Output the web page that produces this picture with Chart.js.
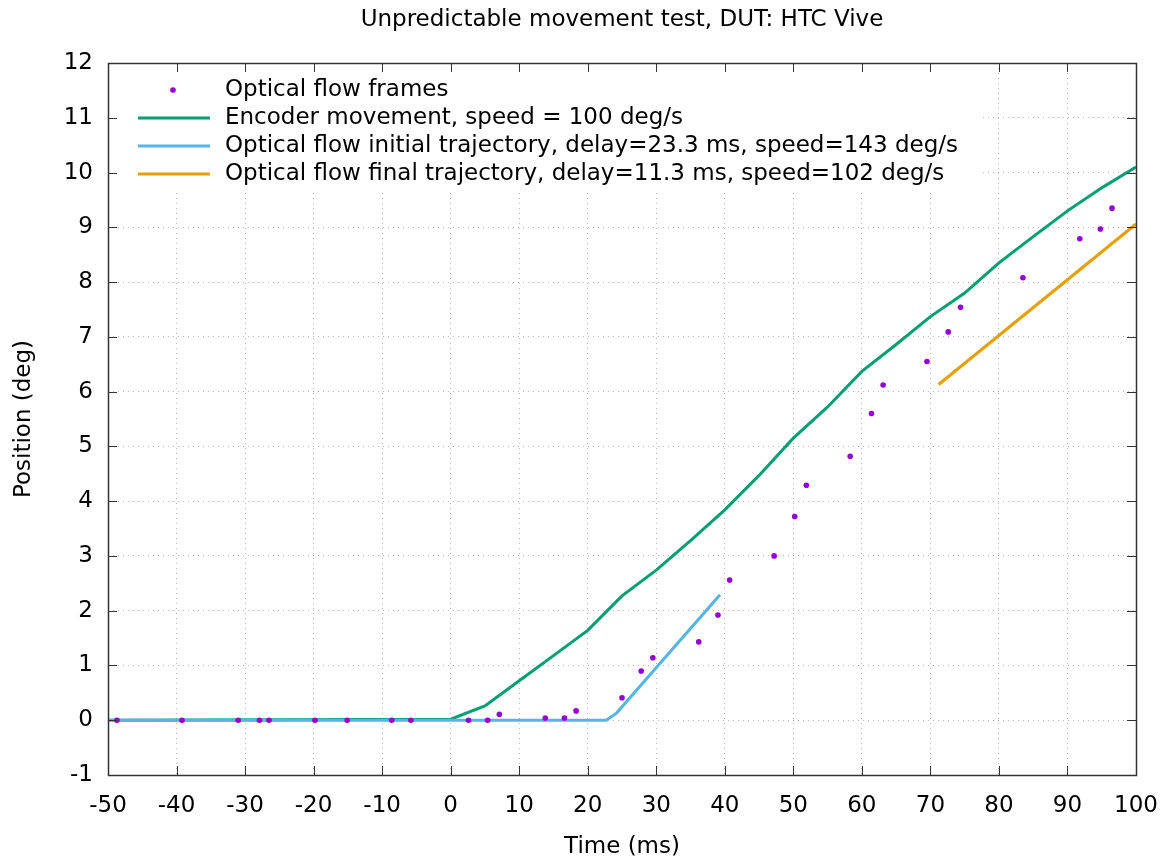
<!DOCTYPE html>
<html>
<head>
<meta charset="utf-8">
<script src="https://cdn.jsdelivr.net/npm/chart.js@4/dist/chart.umd.min.js"></script>
<style>
  html, body { margin: 0; padding: 0; background: #fff; }
  #wrap { width: 1172px; height: 858px; }
</style>
</head>
<body>
<div id="wrap"><canvas id="chart"></canvas></div>
<script>
// optical flow frame samples (ms, deg)
const frameTimes = [-48.7, -39.2, -31.0, -27.9, -26.5, -19.8, -15.1, -8.6, -5.8, 2.6, 5.4, 7.1,
  13.8, 16.6, 18.3, 25.0, 27.8, 29.5, 36.2, 39.0, 40.7, 47.2, 50.2, 51.9, 58.3, 61.4, 63.1,
  69.5, 72.6, 74.4, 83.5, 91.8, 94.8, 96.5];
const framePos = [0, 0, 0, 0, 0, 0, 0, 0, 0, 0, 0, 0.11,
  0.04, 0.04, 0.17, 0.41, 0.90, 1.14, 1.43, 1.92, 2.56, 3.00, 3.72, 4.29, 4.82, 5.60, 6.12,
  6.55, 7.09, 7.54, 8.08, 8.79, 8.97, 9.35];

// encoder
const encoderTimes = [-50, 0, 5, 10, 15, 20, 25, 30, 35, 40, 45, 50, 55, 60, 65, 70, 75, 80, 85, 90, 95, 100];
const encoderPos = [0, 0.02, 0.26, 0.72, 1.18, 1.64, 2.27, 2.74, 3.28, 3.84, 4.47, 5.15, 5.72, 6.37,
  6.86, 7.37, 7.80, 8.35, 8.83, 9.30, 9.72, 10.1];

// fitted trajectories
const initialTimes = [-50, 22.7, 24.2, 39.3];
const initialPos = [0, 0, 0.13, 2.29];
const finalTimes = [71.2, 100];
const finalPos = [6.13, 9.06];

const seriesLabels = [
  "Optical flow frames",
  "Encoder movement, speed = 100 deg/s",
  "Optical flow initial trajectory, delay=23.3 ms, speed=143 deg/s",
  "Optical flow final trajectory, delay=11.3 ms, speed=102 deg/s"
];
const colors = ["#9400d3", "#009e73", "#56b4e9", "#e69f00"];

const xTicks = { min: -50, max: 100, step: 10 };
const yTicks = { min: -1, max: 12, step: 1 };

const FONT = "'DejaVu Sans', sans-serif";
const FS = 23;

function toPoints(xs, ys) {
  return xs.map((x, i) => ({ x: x, y: ys[i] }));
}

// gnuplot-ish frame: border, inward ticks on all sides, opaque key
const gnuplotFrame = {
  id: "gnuplotFrame",
  beforeDatasetsDraw(chart) {
    const ctx = chart.ctx;
    ctx.save();
    ctx.fillStyle = "#fff";
    ctx.fillRect(chart.chartArea.left + 2, chart.chartArea.top + 3, 870, 124);
    ctx.restore();
  },
  afterDraw(chart) {
    const ctx = chart.ctx;
    const a = chart.chartArea;
    const xs = chart.scales.x, ys = chart.scales.y;
    const tl = 9;
    ctx.save();
    ctx.strokeStyle = "#333";
    ctx.lineWidth = 1;
    ctx.beginPath();
    xs.ticks.forEach(t => {
      const px = Math.round(xs.getPixelForValue(t.value)) + 0.5;
      ctx.moveTo(px, a.bottom); ctx.lineTo(px, a.bottom - tl);
      ctx.moveTo(px, a.top); ctx.lineTo(px, a.top + tl);
    });
    ys.ticks.forEach(t => {
      const py = Math.round(ys.getPixelForValue(t.value)) + 0.5;
      ctx.moveTo(a.left, py); ctx.lineTo(a.left + tl, py);
      ctx.moveTo(a.right, py); ctx.lineTo(a.right - tl, py);
    });
    ctx.stroke();
    ctx.lineWidth = 1.5;
    ctx.strokeRect(Math.round(a.left) + 0.5, Math.round(a.top) + 0.5,
      Math.round(a.right - a.left), Math.round(a.bottom - a.top));

    // key
    ctx.font = FS + "px " + FONT;
    ctx.textBaseline = "middle";
    ctx.textAlign = "left";
    chart.data.datasets.forEach((ds, i) => {
      const y = a.top + 27 + i * 28;
      if (i === 0) {
        ctx.fillStyle = ds.pointBackgroundColor;
        ctx.beginPath();
        ctx.arc(a.left + 65, y, 2.8, 0, Math.PI * 2);
        ctx.fill();
      } else {
        ctx.strokeStyle = ds.borderColor;
        ctx.lineWidth = 3;
        ctx.beginPath();
        ctx.moveTo(a.left + 30, y);
        ctx.lineTo(a.left + 102, y);
        ctx.stroke();
      }
      ctx.fillStyle = "#000";
      ctx.fillText(ds.label, a.left + 117, y);
    });
    ctx.restore();
  }
};

const ctx = document.getElementById("chart").getContext("2d");
new Chart(ctx, {
  type: "scatter",
  data: {
    datasets: [
      {
        label: seriesLabels[0],
        data: toPoints(frameTimes, framePos),
        showLine: false,
        pointRadius: 2.8,
        pointBorderWidth: 0,
        pointBackgroundColor: colors[0],
        borderColor: colors[0],
        order: 0
      },
      {
        label: seriesLabels[1],
        data: toPoints(encoderTimes, encoderPos),
        showLine: true,
        borderColor: colors[1],
        borderWidth: 3,
        pointRadius: 0,
        order: 3
      },
      {
        label: seriesLabels[2],
        data: toPoints(initialTimes, initialPos),
        showLine: true,
        borderColor: colors[2],
        borderWidth: 3,
        pointRadius: 0,
        order: 2
      },
      {
        label: seriesLabels[3],
        data: toPoints(finalTimes, finalPos),
        showLine: true,
        borderColor: colors[3],
        borderWidth: 3,
        pointRadius: 0,
        order: 1
      }
    ]
  },
  options: {
    responsive: true,
    maintainAspectRatio: false,
    animation: false,
    layout: { padding: { top: 0, right: 36, bottom: 0, left: 0 } },
    plugins: {
      legend: { display: false },
      tooltip: { enabled: false },
      title: {
        display: true,
        fullSize: false,
        text: "Unpredictable movement test, DUT: HTC Vive",
        color: "#000",
        font: { family: FONT, size: FS, weight: "normal" },
        padding: { top: 6, bottom: 29.4 }
      }
    },
    scales: {
      x: {
        type: "linear",
        min: xTicks.min,
        max: xTicks.max,
        afterFit: s => { s.height = 83; s.paddingRight = 0; },
        ticks: {
          stepSize: xTicks.step,
          color: "#000",
          padding: 17,
          maxRotation: 0,
          font: { family: FONT, size: FS }
        },
        grid: { color: "#b8b8b8", lineWidth: 1, drawTicks: false },
        border: { display: false, dash: [1, 4] },
        title: {
          display: true,
          text: "Time (ms)",
          color: "#000",
          font: { family: FONT, size: FS },
          padding: { top: 0, bottom: -3 }
        }
      },
      y: {
        type: "linear",
        min: yTicks.min,
        max: yTicks.max,
        afterFit: s => { s.width = 108; },
        ticks: {
          stepSize: yTicks.step,
          color: "#000",
          padding: 15,
          font: { family: FONT, size: FS }
        },
        grid: { color: "#b8b8b8", lineWidth: 1, drawTicks: false },
        border: { display: false, dash: [1, 4] },
        title: {
          display: true,
          text: "Position (deg)",
          color: "#000",
          font: { family: FONT, size: FS },
          padding: { top: 10, bottom: 0 }
        }
      }
    }
  },
  plugins: [gnuplotFrame]
});
</script>
</body>
</html>
